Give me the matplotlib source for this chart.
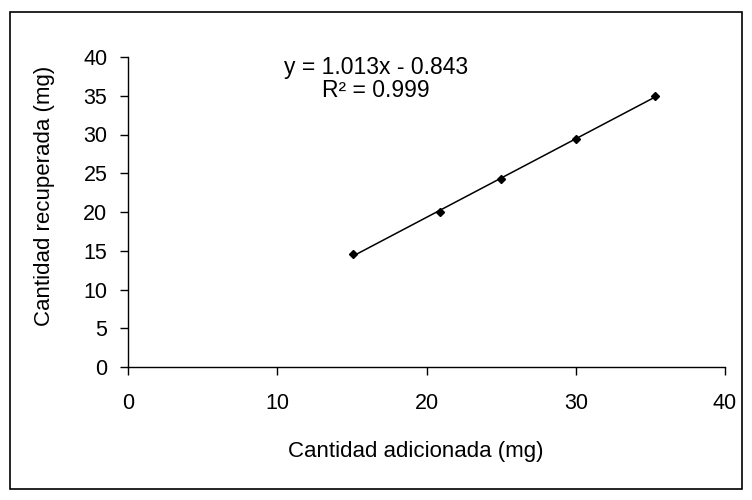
import numpy as np
import matplotlib
matplotlib.use("Agg")
from matplotlib import pyplot as plt
from matplotlib.patches import Rectangle

# data
added = [15.1, 20.9, 25.0, 30.0, 35.3]
recovered = [14.6, 20.0, 24.2, 29.4, 35.0]
x_ticks = [0, 10, 20, 30, 40]
y_ticks = [0, 5, 10, 15, 20, 25, 30, 35, 40]
equation = "y = 1.013x - 0.843\nR² = 0.999"

plt.rcParams['font.family'] = ['Liberation Sans', 'DejaVu Sans']

fig = plt.figure(figsize=(7.52, 5.0), dpi=100)
fig.patches.append(Rectangle((10/752, 1 - 489/500), 732/752, 477/500,
                             transform=fig.transFigure, fill=False,
                             edgecolor='black', linewidth=1.2))

ax = fig.add_axes([128/752, 1 - 367/500, 597/752, 310/500])

# linear trend line over the data range
slope, intercept = np.polyfit(added, recovered, 1)
xs = np.array([min(added), max(added)])
ax.plot(xs, slope * xs + intercept, color='black', linewidth=1.1)
ax.plot(added, recovered, linestyle='none', marker='D', markersize=4,
        color='black')

ax.set_xlim(0, 40)
ax.set_ylim(0, 40)
ax.set_xticks(x_ticks)
ax.set_yticks(y_ticks)
ax.tick_params(direction='out', length=5.8, width=1, labelsize=15.5)
ax.tick_params(axis='x', pad=13)
ax.tick_params(axis='y', pad=9)
for side in ['top', 'right']:
    ax.spines[side].set_visible(False)
for side in ['left', 'bottom']:
    ax.spines[side].set_linewidth(1)

ax.set_xlabel("Cantidad adicionada (mg)", fontsize=16)
ax.set_ylabel("Cantidad recuperada (mg)", fontsize=16)
ax.xaxis.set_label_coords(0.482, -0.239)
ax.yaxis.set_label_coords(-0.122, 0.552)

ax.text(16.6, 37.2, equation, ha='center', va='center', fontsize=16.5,
        multialignment='center', linespacing=1.0)

fig.savefig("out.png", dpi=100)
